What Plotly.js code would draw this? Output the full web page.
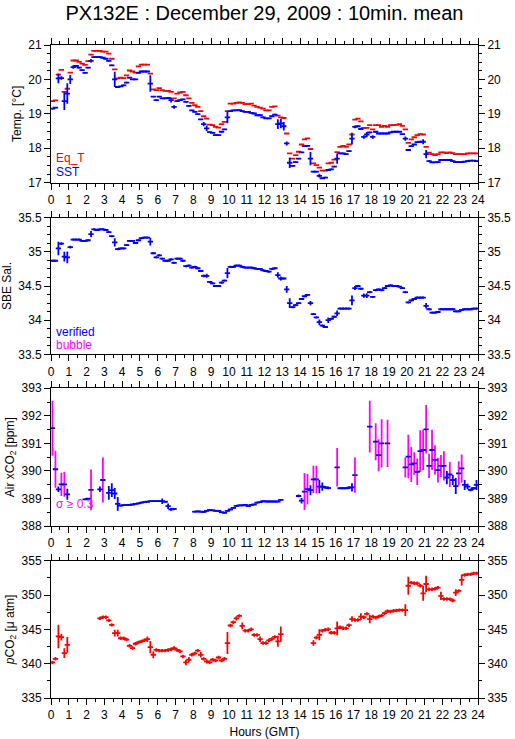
<!DOCTYPE html>
<html>
<head>
<meta charset="utf-8">
<script src="https://cdn.plot.ly/plotly-3.0.1.min.js"></script>
<style>html,body{margin:0;padding:0;background:#fff;}#chart{width:515px;height:739px;}</style>
</head>
<body>
<div id="chart"></div>
<script>
// ---- Data: 10-minute means, 144 intervals (0..24 h GMT) ----
const eqT = [
19.37,19.39,20.14,20.28,19.64,19.73,20.2,20.55,20.55,20.51,20.46,20.42,
20.53,20.72,20.83,20.83,20.83,20.81,20.81,20.75,20.6,20.29,20.03,20.05,
20.04,20.12,20.26,20.23,20.2,20.38,20.43,20.43,20.43,20.17,19.71,19.69,
19.75,19.69,19.67,19.67,19.64,19.45,19.59,19.62,19.64,19.54,19.45,19.32,
19.25,19.2,19.08,18.93,18.86,18.69,18.67,18.62,18.6,18.7,18.77,19.08,
19.3,19.3,19.32,19.33,19.32,19.28,19.28,19.3,19.24,19.2,19.18,19.15,
19.1,19.1,19.2,19.22,18.95,18.9,18.88,18.43,17.85,17.7,17.8,17.9,
18.11,18.26,18.29,17.98,17.56,17.51,17.44,17.35,17.35,17.56,17.58,17.67,
17.89,18.04,18.07,18.04,18.11,18.4,18.83,18.86,18.78,18.59,18.59,18.67,
18.55,18.67,18.67,18.62,18.65,18.62,18.67,18.67,18.68,18.7,18.65,18.55,
18.16,18.26,18.32,18.38,18.41,18.4,18.04,17.87,17.83,17.8,17.83,17.88,
17.88,17.86,17.88,17.86,17.83,17.83,17.83,17.83,17.85,17.85,17.85,17.85];

const sst = [
19.15,19.18,20.03,20.04,19.37,19.59,20.0,20.36,20.39,20.34,20.27,20.19,
20.34,20.54,20.65,20.65,20.65,20.63,20.6,20.54,20.41,20.0,19.78,19.8,
19.83,19.91,20.05,20.0,20.0,20.19,20.23,20.23,20.23,19.88,19.5,19.4,
19.5,19.45,19.45,19.46,19.4,19.2,19.37,19.4,19.42,19.35,19.23,19.1,
19.06,18.99,18.84,18.7,18.58,18.47,18.45,18.38,18.38,18.48,18.55,18.9,
19.08,19.1,19.1,19.11,19.08,19.06,19.06,19.03,19.01,18.96,18.96,18.9,
18.87,18.87,18.93,18.98,18.7,18.72,18.64,18.14,17.58,17.49,17.6,17.7,
17.88,18.06,18.07,17.7,17.32,17.32,17.2,17.13,17.15,17.37,17.39,17.47,
17.7,17.85,17.85,17.83,17.92,18.28,18.62,18.64,18.56,18.33,18.4,18.46,
18.33,18.48,18.43,18.43,18.43,18.43,18.46,18.48,18.48,18.48,18.41,18.28,
17.95,18.06,18.11,18.18,18.19,18.19,17.83,17.63,17.59,17.59,17.6,17.66,
17.66,17.66,17.66,17.63,17.6,17.6,17.6,17.61,17.63,17.64,17.64,17.63];

const sstSd = [
.02,.02,.14,.05,.26,.3,.13,.05,.02,.02,.02,.02,
.02,.05,.02,.02,.02,.02,.02,.02,.02,.22,.02,.02,
.02,.02,.02,.02,.02,.02,.02,.02,.02,.24,.02,.02,
.02,.02,.02,.02,.07,.05,.02,.02,.02,.02,.02,.02,
.02,.02,.02,.06,.08,.02,.02,.02,.02,.02,.02,.17,
.02,.02,.02,.02,.02,.02,.02,.02,.02,.02,.02,.02,
.02,.02,.02,.02,.14,.14,.12,.06,.15,.02,.02,.02,
.02,.02,.02,.19,.02,.02,.05,.02,.02,.02,.02,.02,
.15,.02,.02,.02,.02,.17,.04,.02,.02,.05,.07,.02,
.05,.02,.02,.02,.02,.02,.02,.02,.02,.02,.02,.06,
.03,.02,.02,.02,.02,.07,.12,.02,.02,.02,.02,.02,
.02,.02,.02,.02,.02,.02,.02,.02,.02,.02,.02,.02];

const sal = [
34.87,34.87,35.05,35.12,34.93,34.92,35.07,35.18,35.18,35.18,35.16,35.16,
35.17,35.26,35.33,35.32,35.33,35.33,35.32,35.29,35.23,35.14,35.04,35.05,
35.05,35.1,35.16,35.16,35.13,35.17,35.2,35.21,35.21,35.15,34.98,34.92,
34.95,34.9,34.87,34.87,34.89,34.84,34.9,34.9,34.87,34.79,34.8,34.77,
34.78,34.76,34.72,34.65,34.65,34.56,34.54,34.5,34.5,34.55,34.58,34.69,
34.78,34.78,34.8,34.8,34.78,34.77,34.77,34.77,34.76,34.75,34.75,34.73,
34.72,34.71,34.75,34.76,34.66,34.61,34.61,34.45,34.25,34.19,34.22,34.25,
34.31,34.35,34.37,34.25,34.09,34.04,33.97,33.92,33.9,34.0,34.02,34.05,
34.1,34.17,34.17,34.17,34.17,34.29,34.47,34.5,34.46,34.36,34.36,34.41,
34.34,34.44,34.45,34.44,34.47,34.5,34.51,34.5,34.5,34.49,34.47,34.41,
34.26,34.29,34.31,34.33,34.33,34.33,34.21,34.16,34.11,34.11,34.12,34.16,
34.16,34.16,34.16,34.16,34.13,34.13,34.15,34.16,34.16,34.16,34.17,34.17];

const salSd = [
.015,.015,.1,.02,.07,.085,.02,.015,.015,.015,.015,.015,
.015,.045,.015,.015,.015,.015,.015,.015,.015,.06,.015,.015,
.015,.015,.015,.015,.015,.015,.015,.015,.015,.055,.015,.015,
.015,.015,.015,.015,.015,.015,.015,.015,.015,.015,.015,.015,
.015,.015,.015,.02,.03,.015,.015,.015,.015,.015,.015,.075,
.015,.015,.015,.015,.015,.015,.015,.015,.015,.015,.015,.015,
.015,.015,.015,.015,.04,.03,.015,.05,.07,.015,.015,.015,
.015,.015,.015,.03,.015,.015,.04,.015,.015,.04,.015,.015,
.04,.015,.015,.015,.015,.07,.03,.015,.015,.03,.035,.015,
.015,.015,.015,.015,.015,.015,.015,.015,.015,.015,.015,.015,
.015,.015,.015,.015,.015,.015,.04,.015,.015,.015,.015,.015,
.015,.015,.015,.015,.015,.015,.015,.015,.015,.015,.015,.015];

const airCO2 = [
391.55,390.06,389.33,389.51,389.51,389.15,null,null,null,null,null,388.97,
388.99,389.31,null,null,389.33,389.67,null,389.2,389.3,389.18,388.8,388.74,
388.76,388.76,388.77,388.78,388.8,388.82,388.85,388.87,388.88,388.9,388.9,388.9,
388.9,388.9,388.88,388.72,388.6,388.62,null,null,null,null,null,null,
388.52,388.53,388.52,388.51,388.55,388.58,388.57,388.55,388.55,388.5,388.48,388.55,
388.6,388.66,388.73,388.75,388.75,388.77,388.72,388.77,388.78,388.85,388.87,388.9,
388.89,388.89,388.89,388.89,388.89,388.95,null,null,null,null,null,389.09,
388.92,389.25,389.34,389.3,389.69,389.69,389.43,389.43,389.4,389.38,null,null,
390.13,389.37,389.37,389.37,389.39,389.4,389.85,null,null,null,null,391.61,
null,391.06,390.57,391.0,null,391.0,null,null,null,null,null,390.13,
390.52,390.24,390.27,389.97,390.72,390.76,391.51,390.18,390.76,390.4,390.03,390.18,
390.18,389.76,389.87,389.67,389.45,389.91,390.09,389.49,389.43,389.31,389.37,389.49];

const airSd = [
1.0,.67,.1,.42,.45,.2,0,0,0,0,0,.03,
.03,.74,0,0,.1,.82,0,.25,.25,.2,.25,.03,
.03,.03,.03,.03,.03,.03,.03,.03,.03,.03,.03,.03,
.03,.1,.03,.1,.05,.03,0,0,0,0,0,0,
.03,.03,.03,.03,.03,.03,.03,.03,.03,.03,.03,.03,
.03,.03,.03,.03,.03,.03,.03,.03,.03,.03,.03,.03,
.03,.03,.03,.03,.03,.03,0,0,0,0,0,.05,
.1,.67,.55,.18,.5,.5,.24,.15,.05,.05,0,0,
.7,.03,.03,.03,.05,.15,.64,0,0,0,0,.94,
0,.67,.58,.88,0,.86,0,0,0,0,0,.37,
.79,.64,.41,.48,.76,.73,.88,.44,.73,.53,.45,.4,
.53,.24,.45,.18,.29,.44,.51,.18,.1,.05,.05,.18];

const pco2 = [
340.18,340.71,343.96,343.86,341.54,342.75,null,null,null,null,null,null,
null,null,null,null,346.6,346.77,346.77,346.3,345.65,344.45,344.45,343.7,
343.7,343.5,342.6,342.27,342.9,343.1,343.25,343.4,343.57,342.4,341.3,342.0,
341.9,341.9,341.9,342.0,342.1,342.27,342.0,341.8,341.05,340.18,340.57,341.3,
341.5,341.9,341.3,340.7,340.33,340.2,340.57,340.46,340.9,340.46,340.71,343.0,
345.56,346.04,346.6,346.96,345.5,344.8,344.8,345.0,344.18,344.18,343.57,343.0,
343.0,343.4,343.6,343.9,343.25,344.3,null,null,null,null,null,null,
null,null,null,null,343.0,343.8,344.2,344.8,344.93,345.0,344.5,344.5,
345.15,345.3,345.15,345.15,345.6,346.5,346.37,346.37,346.86,346.76,347.25,346.5,
346.86,346.7,346.86,347.0,347.35,347.64,347.6,347.7,347.74,347.8,347.8,347.8,
351.35,351.8,351.7,351.7,351.35,350.25,351.6,350.83,350.83,350.9,351.07,349.86,
349.43,349.43,349.4,349.2,350.35,350.6,352.2,352.9,353.0,353.0,353.15,353.15];

const pco2Sd = [
.25,.25,1.7,.5,.7,1.15,0,0,0,0,0,0,
0,0,0,0,.25,.25,.25,.25,.25,.5,.5,.25,
.25,.25,.25,.25,.25,.25,.25,.25,.4,.9,.5,.25,
.25,.25,.25,.25,.25,.25,.25,.25,.25,.4,.4,.25,
.25,.25,.4,.25,.3,.25,.25,.25,.25,.25,.25,1.6,
.25,.25,.3,.25,.5,.25,.25,.25,.25,.25,.4,.25,
.25,.25,.25,.25,.8,1.1,0,0,0,0,0,0,
0,0,0,0,.4,.25,.8,.25,.25,.25,.25,.25,
1.0,.25,.25,.25,.25,.4,.25,.25,.5,.25,.25,.6,
.25,.25,.25,.25,.25,.25,.25,.25,.25,.25,.25,.85,
1.3,.25,.25,.25,.25,1.1,1.2,.25,.25,.25,.25,.6,
.25,.25,.25,.25,.5,.25,.8,.25,.25,.25,.25,.25];

const sigmaFlag = 0.3;
const hourTicks = [0,1,2,3,4,5,6,7,8,9,10,11,12,13,14,15,16,17,18,19,20,21,22,23,24];

// interval centres (hours)
const hours = eqT.map((_, i) => (i + 0.5) / 6);

const RED = '#ff0000', BLUE = '#0000ff', MAG = '#ff00ff';
const FONT = 'Liberation Sans, Arial, Helvetica, sans-serif';
const TH = 1.8;
const HALF = 0.15; // half width of each cross arm (hours)

function bars(y, color, sd, xa, ya, withX) {
  const t = {
    x: hours, y: y, xaxis: xa, yaxis: ya, type: 'scatter', mode: 'markers',
    marker: {size: 0, color: color, opacity: 0}, hoverinfo: 'skip', showlegend: false
  };
  if (withX) t.error_x = {type: 'constant', value: HALF, width: 0, thickness: TH, color: color};
  if (sd) t.error_y = {type: 'data', array: sd, width: 0, thickness: TH, color: color, symmetric: true};
  return t;
}
function dummy(xa, ya) {
  return {x: [null], y: [null], xaxis: xa, yaxis: ya, type: 'scatter', mode: 'markers',
          marker: {size: 0}, hoverinfo: 'skip', showlegend: false};
}

const airHighY = airCO2.map((v, i) => airSd[i] >= sigmaFlag ? v : null);
const airLowSd = airSd.map(s => s < sigmaFlag ? s : 0);

const data = [
  bars(eqT, RED, null, 'x', 'y', true),
  bars(sst, BLUE, sstSd, 'x', 'y', true),
  bars(sal, BLUE, salSd, 'x2', 'y2', true),
  bars(airHighY, MAG, airSd, 'x3', 'y3', false),
  bars(airCO2, BLUE, airLowSd, 'x3', 'y3', true),
  bars(pco2, RED, pco2Sd, 'x4', 'y4', true),
  dummy('x', 'y5'), dummy('x2', 'y6'), dummy('x3', 'y7'), dummy('x4', 'y8')
];

const tf = {family: FONT, size: 12, color: '#000'};
function xax(anchor, title) {
  const a = {
    anchor: anchor, domain: [0, 1], range: [0, 24], tickmode: 'array', tickvals: hourTicks,
    ticktext: hourTicks.map(String), ticks: 'outside', ticklen: 6, tickwidth: 1, tickcolor: '#000',
    minor: {dtick: 0.5, tick0: 0, ticks: 'outside', ticklen: 3, tickwidth: 1, tickcolor: '#000', showgrid: false},
    showline: true, linecolor: '#000', linewidth: 1, mirror: 'ticks', showgrid: false, zeroline: false,
    tickfont: tf, fixedrange: true
  };
  if (title) a.title = {text: title, font: tf, standoff: 6};
  return a;
}
function yax(dom, range, dtick, minor, title) {
  return {
    domain: dom, range: range, dtick: dtick, tick0: range[0], anchor: 'x',
    ticks: 'outside', ticklen: 6, tickwidth: 1, tickcolor: '#000',
    minor: {dtick: minor, ticks: 'outside', ticklen: 3, tickwidth: 1, tickcolor: '#000', showgrid: false},
    showline: true, linecolor: '#000', linewidth: 1, mirror: 'ticks', showgrid: false, zeroline: false,
    tickfont: tf, title: {text: title, font: tf, standoff: 4}, fixedrange: true
  };
}
function yright(over, xa, range, dtick, minor) {
  return {
    overlaying: over, side: 'right', anchor: xa, range: range, dtick: dtick, tick0: range[0],
    ticks: 'outside', ticklen: 6, tickwidth: 1, tickcolor: '#000',
    minor: {dtick: minor, ticks: 'outside', ticklen: 3, tickwidth: 1, tickcolor: '#000', showgrid: false},
    showline: false, showgrid: false, zeroline: false, tickfont: tf, fixedrange: true
  };
}

const D1 = [0.7891, 1], D2 = [0.5263, 0.7355], D3 = [0.2634, 0.4743], D4 = [0, 0.2103];
const y1 = yax(D1, [17, 21], 1, 0.25, 'Temp. [°C]');
const y2 = yax(D2, [33.5, 35.5], 0.5, 0.125, 'SBE Sal.'); y2.anchor = 'x2';
const y3 = yax(D3, [388, 393], 1, 0.5, 'Air xCO<sub>2</sub> [ppm]'); y3.anchor = 'x3';
const y4 = yax(D4, [335, 355], 5, 2.5, '<i>p</i>CO<sub>2</sub> [μ atm]'); y4.anchor = 'x4';

function note(text, color, xref, yref, yv) {
  return {text: text, font: {family: FONT, size: 12, color: color}, xref: xref, yref: yref,
          x: 0.006, y: yv, xanchor: 'left', yanchor: 'middle', showarrow: false};
}

const layout = {
  width: 515, height: 739,
  margin: {l: 51, r: 37, t: 45, b: 41},
  paper_bgcolor: '#fff', plot_bgcolor: '#fff',
  font: {family: FONT, color: '#000'},
  title: {text: 'PX132E : December 29, 2009 : 10min. mean', font: {family: FONT, size: 20, color: '#000'},
          x: 0.5, xref: 'paper', xanchor: 'center', y: 1 - 13 / 739, yref: 'container', yanchor: 'middle'},
  showlegend: false,
  xaxis: xax('y'), xaxis2: xax('y2'), xaxis3: xax('y3'), xaxis4: xax('y4', 'Hours (GMT)'),
  yaxis: y1, yaxis2: y2, yaxis3: y3, yaxis4: y4,
  yaxis5: yright('y', 'x', [17, 21], 1, 0.25),
  yaxis6: yright('y2', 'x2', [33.5, 35.5], 0.5, 0.125),
  yaxis7: yright('y3', 'x3', [388, 393], 1, 0.5),
  yaxis8: yright('y4', 'x4', [335, 355], 5, 2.5),
  annotations: [
    note('Eq_T', RED, 'x domain', 'y domain', 0.18),
    note('SST', BLUE, 'x domain', 'y domain', 0.075),
    note('verified', BLUE, 'x2 domain', 'y2 domain', 0.163),
    note('bubble', MAG, 'x2 domain', 'y2 domain', 0.068),
    note('σ ≥ 0.3', MAG, 'x3 domain', 'y3 domain', 0.16)
  ]
};

Plotly.newPlot('chart', data, layout, {staticPlot: true, displayModeBar: false});
</script>
</body>
</html>
